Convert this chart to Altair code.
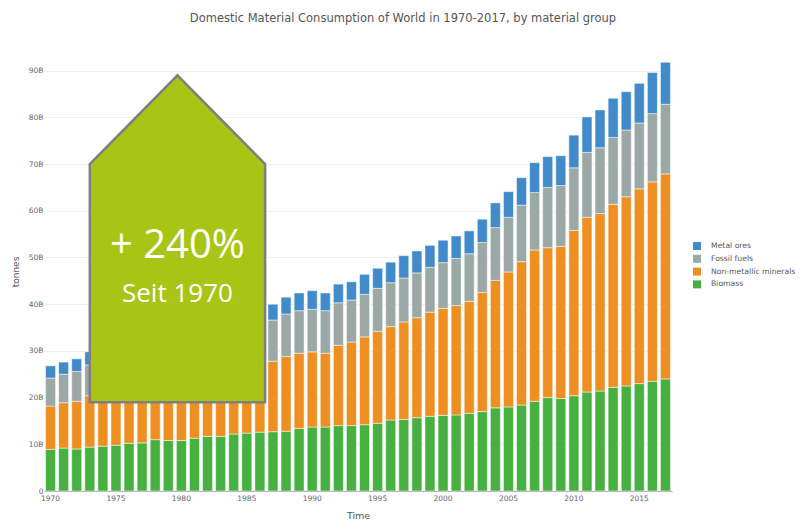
import altair as alt
import pandas as pd

years = list(range(1970, 2018))

# billions of tonnes, per material group (1974-1986 partly hidden, estimated)
biomass = [8.9, 9.2, 9.0, 9.4, 9.6, 9.8, 10.2, 10.3, 11.0, 10.8, 10.8, 11.3, 11.7, 11.7, 12.2, 12.4,
           12.6, 12.7, 12.8, 13.4, 13.7, 13.7, 14.0, 14.0, 14.2, 14.5, 15.2, 15.3, 15.7, 16.0, 16.2,
           16.3, 16.6, 17.0, 17.8, 18.0, 18.4, 19.2, 20.0, 19.8, 20.4, 21.2, 21.4, 22.2, 22.5, 23.0,
           23.5, 24.0]
non_metallic = [9.3, 9.7, 10.2, 11.0, 11.0, 10.7, 11.1, 11.7, 11.9, 12.6, 12.5, 12.2, 11.7, 12.3, 12.8,
                13.2, 14.0, 15.1, 16.0, 16.1, 16.1, 15.8, 17.2, 17.9, 18.8, 19.7, 20.0, 20.9, 21.4,
                22.3, 22.9, 23.4, 24.0, 25.5, 27.3, 28.9, 30.7, 32.4, 32.1, 32.6, 35.4, 37.4, 38.0,
                39.2, 40.5, 41.7, 42.7, 43.9]
fossil = [6.0, 6.1, 6.4, 6.6, 6.7, 6.7, 7.1, 7.3, 7.4, 7.7, 7.6, 7.5, 7.4, 7.4, 7.6, 7.9, 8.0, 8.8,
          9.1, 9.1, 9.1, 9.1, 9.1, 9.0, 9.1, 9.2, 9.4, 9.4, 9.6, 9.6, 9.8, 10.1, 10.2, 10.7, 11.3,
          11.7, 12.1, 12.3, 12.9, 13.0, 13.4, 13.9, 14.1, 14.3, 14.3, 14.1, 14.6, 14.9]
metal = [2.6, 2.6, 2.7, 2.8, 2.8, 2.7, 2.8, 2.9, 3.0, 3.1, 3.0, 2.9, 2.8, 2.9, 3.1, 3.1, 3.2, 3.4,
         3.6, 3.8, 4.0, 3.8, 4.0, 3.9, 4.3, 4.3, 4.4, 4.8, 4.7, 4.7, 4.8, 4.8, 4.9, 5.0, 5.3, 5.5,
         5.9, 6.4, 6.6, 6.4, 7.0, 7.6, 8.1, 8.4, 8.2, 8.5, 8.8, 9.0]

groups = ["Metal ores", "Fossil fuels", "Non-metallic minerals", "Biomass"]
colors = ["#428bca", "#9aa8a6", "#ee8f22", "#46b040"]
stack_rank = {"Biomass": 0, "Non-metallic minerals": 1, "Fossil fuels": 2, "Metal ores": 3}
series = {"Biomass": biomass, "Non-metallic minerals": non_metallic,
          "Fossil fuels": fossil, "Metal ores": metal}
x_ticks = [1970, 1975, 1980, 1985, 1990, 1995, 2000, 2005, 2010, 2015]

# overlay arrow shape (year position, top, bottom in billions)
arrow_x = [1973.0, 1979.7, 1986.4]
arrow_top = [70, 89, 70]
arrow_bottom = [19, 19, 19]
labels_text = ["+ 240%", "Seit 1970"]
labels_x = [1979.7, 1979.7]
labels_y = [49.8, 40.5]
labels_size = [40, 26]

rows = []
for g, vals in series.items():
    for yr, v in zip(years, vals):
        rows.append({"Year": yr, "Group": g, "Value": v, "rank": stack_rank[g]})
df = pd.DataFrame(rows)

arrow_df = pd.DataFrame({"x": arrow_x, "top": arrow_top, "bottom": arrow_bottom})
text_df = pd.DataFrame({"x": labels_x, "y": labels_y, "t": labels_text, "s": labels_size})

FONT = "DejaVu Sans"
yscale = alt.Scale(domain=[0, 94], nice=False)

bars = alt.Chart(df).mark_bar(stroke="#ffffff", strokeWidth=0.5).encode(
    x=alt.X("Year:O", scale=alt.Scale(paddingInner=0.235, paddingOuter=0.1175),
            axis=alt.Axis(values=x_ticks, labelAngle=0, title="Time", ticks=False,
                          domainColor="#aaaaaa", labelPadding=3, titlePadding=9,
                          labelFontSize=7.5, titleFontSize=9.5)),
    y=alt.Y("Value:Q", stack="zero", scale=yscale,
            axis=alt.Axis(title="tonnes", labelExpr="datum.value == 0 ? '0' : datum.value + 'B'",
                          values=[0, 10, 20, 30, 40, 50, 60, 70, 80, 90], domain=False, ticks=False,
                          gridColor="#eeeeee", labelPadding=1, titlePadding=8,
                          labelFontSize=7.5, titleFontSize=9)),
    color=alt.Color("Group:N", scale=alt.Scale(domain=groups, range=colors), title=None,
                    legend=alt.Legend(orient="none", legendX=649, legendY=190, symbolType="square",
                                      symbolSize=64, symbolStrokeWidth=0, labelFontSize=7.7,
                                      labelOffset=10, rowPadding=4.8, padding=0,
                                      labelColor="#555555", labelFont=FONT)),
    order=alt.Order("rank:Q", sort="ascending"),
)

xq = alt.X("x:Q", scale=alt.Scale(domain=[1969.5, 2017.5], nice=False, zero=False), axis=None)

arrow = alt.Chart(arrow_df).mark_area(color="#a8c515", stroke="#7f7f7f", strokeWidth=2.5,
                                      opacity=1, interpolate="linear").encode(
    x=xq, y=alt.Y("top:Q", scale=yscale), y2="bottom:Q"
)

texts = alt.Chart(text_df).mark_text(color="#ffffff", font="Open Sans", baseline="alphabetic",
                                     align="center").encode(
    x=xq, y=alt.Y("y:Q", scale=yscale), text="t:N", size=alt.Size("s:Q", scale=None, legend=None)
)

chart = alt.layer(bars, arrow, texts).resolve_scale(x="independent").properties(
    width=628, height=439,
    autosize=alt.AutoSizeParams(type="none"),
    padding={"left": 36, "top": 44, "right": 123, "bottom": 30},
    title=alt.Title("Domestic Material Consumption of World in 1970-2017, by material group",
                    fontSize=11.5, font=FONT, color="#555555", fontWeight="normal",
                    anchor="middle", dx=45, offset=28),
).configure_view(stroke=None).configure_axis(
    labelColor="#666666", titleColor="#555555", labelFont=FONT, titleFont=FONT,
    titleFontWeight="normal"
)

chart.save("out.html", embed_options={"renderer": "svg", "actions": False})
